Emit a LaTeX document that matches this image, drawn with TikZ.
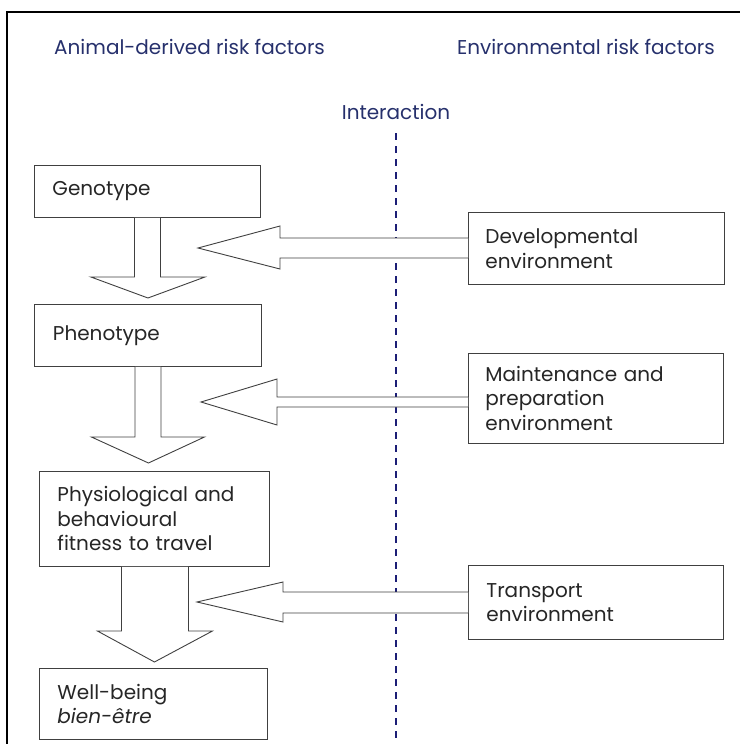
\documentclass[tikz,border=0pt]{standalone}
\usepackage{fontspec}
\setmainfont{Poppins}
\usetikzlibrary{positioning,calc}
\definecolor{headblue}{RGB}{38,48,108}
\definecolor{dashblue}{RGB}{28,30,118}

\begin{document}
\begin{tikzpicture}[x=1pt,y=-1pt,
  box/.style={draw=black!75,line width=0.9pt,fill=white,anchor=north west,
    align=left,inner xsep=18pt,inner ysep=0pt,font=\fontsize{20}{24.5}\selectfont,text=black!85},
  blk/.style={draw=black!75,line width=0.9pt,fill=white,line join=miter},
  head/.style={text=headblue,font=\fontsize{20}{24}\selectfont,inner sep=0pt}]
\useasboundingbox (0,0) rectangle (740,744);
\draw[line width=1.1pt] (7,744) -- (7,12) -- (740,12);

\node[head,anchor=west] (animal) at (54,47) {Animal-derived risk factors};
\node[head,anchor=east] (envir) at (715,47) {Environmental risk factors};
\node[head] (inter) at (396,112) {Interaction};

\coordinate (dtop) at (396,133);
\coordinate (dbot) at (396,738);
\draw[dashblue,line width=1.6pt,dash pattern=on 7pt off 6pt] (dtop) -- (dbot);

\node[box,minimum width=226,minimum height=52,text width=190] (geno) at (34,165) {Genotype};
\node[box,minimum width=227,minimum height=62,text width=190] (pheno) at (34,304) {Phenotype};
\node[box,minimum width=230,minimum height=95,text width=194] (fit) at (39,471)
  {Physiological and\\behavioural\\fitness to travel};
\node[box,minimum width=228,minimum height=71,text width=192] (wellb) at (39,668)
  {Well-being\\\textit{bien-être}};

\node[box,minimum width=256,minimum height=72,text width=222,inner xsep=15pt] (devenv) at (468,212)
  {Developmental\\environment};
\node[box,minimum width=255,minimum height=90,text width=221,inner xsep=15pt] (mainenv) at (468,353)
  {Maintenance and\\preparation\\environment};
\node[box,minimum width=255,minimum height=74,text width=219,inner xsep=18pt] (transenv) at (468,565)
  {Transport\\environment};

\coordinate (t1) at (198,248);
\coordinate (t2) at (201,402);
\coordinate (t3) at (197,602);

\draw[blk] ($(geno.south)+(-13,0)$) |- ($(pheno.north)+(-57,-27)$) -- ($(pheno.north)+(0,-6)$)
  -- ($(pheno.north)+(57,-27)$) -| ($(geno.south)+(13,0)$);
\draw[blk] ($(pheno.south)+(-13,0)$) |- ($(fit.north)+(-63,-34)$) -- ($(fit.north)+(-6,-8)$)
  -- ($(fit.north)+(50,-34)$) -| ($(pheno.south)+(13,0)$);
\draw[blk] ($(fit.south)+(-33,0)$) |- ($(wellb.north)+(-56,-37)$) -- ($(wellb.north)+(1,-6)$)
  -- ($(wellb.north)+(59,-37)$) -| ($(fit.south)+(34,0)$);

\draw[blk] ($(devenv.west |- t1)+(0,-10)$) -- ($(t1)+(82,-10)$) -- ($(t1)+(82,-22)$) -- (t1)
  -- ($(t1)+(82,21)$) -- ($(t1)+(82,10)$) -- ($(devenv.west |- t1)+(0,10)$);
\draw[blk] ($(mainenv.west |- t2)+(0,-5)$) -- ($(t2)+(76,-5)$) -- ($(t2)+(76,-23)$) -- (t2)
  -- ($(t2)+(76,23)$) -- ($(t2)+(76,5)$) -- ($(mainenv.west |- t2)+(0,5)$);
\draw[blk] ($(transenv.west |- t3)+(0,-10)$) -- ($(t3)+(86,-10)$) -- ($(t3)+(86,-20)$) -- (t3)
  -- ($(t3)+(86,20)$) -- ($(t3)+(86,11)$) -- ($(transenv.west |- t3)+(0,11)$);
\end{tikzpicture}
\end{document}
